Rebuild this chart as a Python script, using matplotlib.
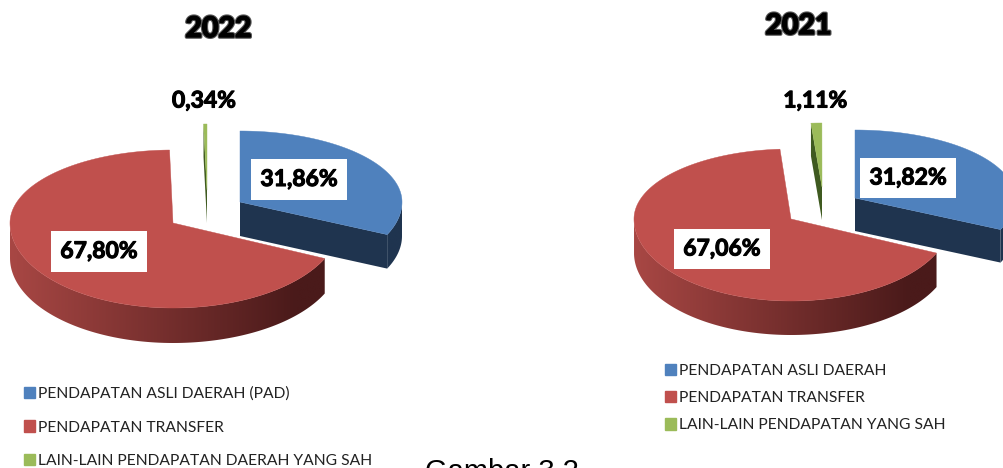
import numpy as np
import matplotlib
matplotlib.use('Agg')
import matplotlib.pyplot as plt
import matplotlib.patheffects as pe
from matplotlib.patches import Patch, Polygon
from matplotlib.colors import to_rgb

years = ['2022', '2021']
values_2022 = [31.86, 67.80, 0.34]
values_2021 = [31.82, 67.06, 1.11]
legend_2022 = ['PENDAPATAN ASLI DAERAH (PAD)', 'PENDAPATAN TRANSFER', 'LAIN-LAIN PENDAPATAN DAERAH YANG SAH']
legend_2021 = ['PENDAPATAN ASLI DAERAH', 'PENDAPATAN TRANSFER', 'LAIN-LAIN PENDAPATAN YANG SAH']
caption = 'Gambar 3.2'

top_colors = ['#4f81bd', '#c0504d', '#9bbb59']
cut_colors = ['#1f344f', '#4a1c1b', '#3f5a20']
wall_left = ['#1f344f', '#a84744', '#3f5a20']
wall_right = ['#1f344f', '#4a1a1a', '#3f5a20']

FONT = 'Lato'

##apex x, apex y, rx left, rx right, ry up, ry down, depth##
geom_2022 = [(240, 202, 161, 162, 71, 78, 34), (173, 223, 163, 167, 73, 85, 35), (207, 190, 163, 163, 66, 80, 33)]
geom_2021 = [(855, 198, 157, 160, 68, 76, 33), (791, 219, 157, 160, 70, 82, 34), (822, 187, 157, 157, 64, 80, 33)]


def rim(g, th):
    th = np.radians(th)
    c, s = np.cos(th), np.sin(th)
    return g[0] + np.where(c >= 0, g[3], g[2])*c, g[1] - np.where(s >= 0, g[4], g[5])*s


def draw_wedge(ax, g, t0, t1, i):
    th = np.linspace(t0, t1, 240)
    x, y = rim(g, th)
    depth = g[6]

    ##front wall, only where the rim faces the viewer##
    front = np.sin(np.radians(th)) < 0
    if front.any():
        fx, fy = x[front], y[front]
        poly = Polygon(np.c_[np.r_[fx, fx[::-1]], np.r_[fy, fy[::-1] + depth]], closed=True,
                       transform=ax.transData, fill=False, lw=0)
        c1 = np.array(to_rgb(wall_left[i]))
        c2 = np.array(to_rgb(wall_right[i]))
        f = np.minimum(1, np.linspace(0, 1, 256)*1.15)[:, None]
        grad = (c1 + (c2 - c1)*f)[None, :, :]
        im = ax.imshow(grad, extent=(g[0] - g[2], g[0] + g[3], fy.max() + depth, fy.min()),
                       aspect='auto', zorder=2 + i, interpolation='bilinear')
        im.set_clip_path(poly)

    ##cut faces##
    if i == 0:
        ax.fill([g[0], x[-1], x[-1], g[0]], [g[1], y[-1], y[-1] + depth, g[1] + depth],
                color=cut_colors[i], lw=0, zorder=2 + i)
    if i == 2:
        ax.fill([g[0], x[0], x[0], g[0]], [g[1], y[0], y[0] + depth, g[1] + depth],
                color=cut_colors[i], lw=0, zorder=2 + i)

    ##top face##
    ax.fill(np.r_[g[0], x], np.r_[g[1], y], color=top_colors[i], lw=0.3, zorder=3 + i)


def draw_pie(ax, values, geom):
    start = 90.0
    angles = []
    for v in values:
        angles.append((start, start - v*3.6))
        start -= v*3.6
    for i in [1, 0, 2]:
        draw_wedge(ax, geom[i], angles[i][0], angles[i][1], i)


def pct(v):
    return f'{v:.2f}%'.replace('.', ',')


def boxed(ax, x, y, s):
    ax.text(x, y, s, ha='center', va='center', fontsize=16.5, fontweight='bold', family=FONT, color='black', zorder=10,
            path_effects=[pe.withStroke(linewidth=0.8, foreground='black')],
            bbox=dict(facecolor='white', edgecolor='none', boxstyle='square,pad=0.42'))


def plain(ax, x, y, s):
    ax.text(x, y, s, ha='center', va='center', fontsize=16.5, fontweight='bold', family=FONT, color='black', zorder=10,
            path_effects=[pe.withStroke(linewidth=0.8, foreground='black')])


def title(ax, x, y, s):
    ax.text(x, y, s, ha='center', va='center', fontsize=20.5, fontweight='bold', family=FONT, color='black', zorder=10,
            path_effects=[pe.withStroke(linewidth=2.6, foreground='#555555'),
                          pe.withStroke(linewidth=1.0, foreground='black')])


fig = plt.figure(figsize=(10.04, 4.68), dpi=100)
ax = fig.add_axes([0, 0, 1, 1])

draw_pie(ax, values_2022, geom_2022)
draw_pie(ax, values_2021, geom_2021)

ax.set_xlim(0, 1004)
ax.set_ylim(468, 0)
ax.axis('off')

title(ax, 218.5, 29, years[0])
title(ax, 798.5, 26, years[1])

boxed(ax, 299, 179.5, pct(values_2022[0]))
boxed(ax, 99, 251.5, pct(values_2022[1]))
plain(ax, 204, 101, pct(values_2022[2]))
boxed(ax, 908, 178, pct(values_2021[0]))
boxed(ax, 722, 249, pct(values_2021[1]))
plain(ax, 815, 101, pct(values_2021[2]))

h22 = [Patch(color=c, label=l) for c, l in zip(top_colors, legend_2022)]
h21 = [Patch(color=c, label=l) for c, l in zip(top_colors, legend_2021)]
leg1 = ax.legend(handles=h22, loc='upper left', bbox_to_anchor=(19/1004, 1 - 382/468), frameon=False, ncol=1,
                 prop={'family': FONT, 'size': 11.25}, labelspacing=1.24, handlelength=0.74, handleheight=0.74,
                 handletextpad=0.15, borderaxespad=0, borderpad=0.3, labelcolor='#222222')
ax.add_artist(leg1)
ax.legend(handles=h21, loc='upper left', bbox_to_anchor=(660/1004, 1 - 359/468), frameon=False, ncol=1,
          prop={'family': FONT, 'size': 11.25}, labelspacing=0.84, handlelength=0.74, handleheight=0.74,
          handletextpad=0.15, borderaxespad=0, borderpad=0.3, labelcolor='#222222')

ax.text(425, 480, caption, ha='left', va='baseline', fontsize=21, family='Liberation Sans', color='black', clip_on=False)

plt.savefig('out.png', dpi=100)
